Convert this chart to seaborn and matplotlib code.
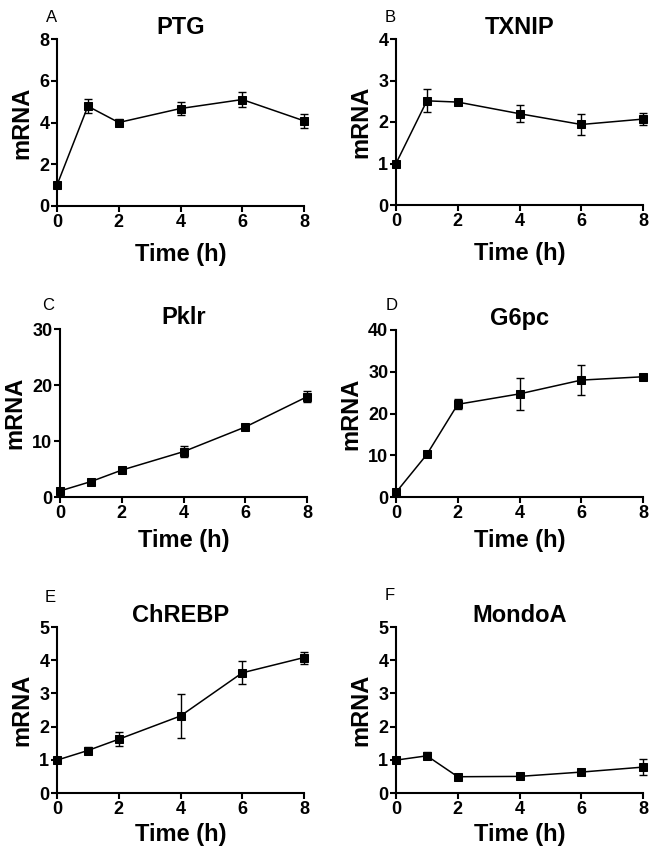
import numpy as np
import pandas as pd
import matplotlib
matplotlib.use("Agg")
import matplotlib.pyplot as plt
import seaborn as sns

# Time points (h)
time = [0, 1, 2, 4, 6, 8]

# Mean mRNA and error per gene
ptg_mean = [1.0, 4.78, 4.0, 4.67, 5.1, 4.08]
ptg_err = [0.1, 0.33, 0.17, 0.29, 0.34, 0.33]

txnip_mean = [1.0, 2.51, 2.48, 2.2, 1.94, 2.07]
txnip_err = [0.03, 0.28, 0.03, 0.21, 0.26, 0.15]

pklr_mean = [1.08, 2.75, 4.8, 8.1, 12.5, 17.9]
pklr_err = [0.2, 0.3, 0.3, 1.0, 0.3, 1.0]

g6pc_mean = [1.1, 10.2, 22.2, 24.7, 28.0, 28.8]
g6pc_err = [0.3, 0.4, 1.2, 3.9, 3.5, 0.3]

chrebp_mean = [0.99, 1.28, 1.62, 2.32, 3.62, 4.08]
chrebp_err = [0.03, 0.11, 0.21, 0.66, 0.35, 0.18]

mondoa_mean = [0.99, 1.12, 0.49, 0.5, 0.63, 0.78]
mondoa_err = [0.05, 0.1, 0.04, 0.04, 0.1, 0.23]

genes = ["PTG", "TXNIP", "Pklr", "G6pc", "ChREBP", "MondoA"]
letters = ["A", "B", "C", "D", "E", "F"]
means = [ptg_mean, txnip_mean, pklr_mean, g6pc_mean, chrebp_mean, mondoa_mean]
errs = [ptg_err, txnip_err, pklr_err, g6pc_err, chrebp_err, mondoa_err]
ymax = [8, 4, 30, 40, 5, 5]
ystep = [2, 1, 10, 10, 1, 1]

sns.set_theme(style="ticks")
plt.rcParams['font.family'] = ['Liberation Sans', 'DejaVu Sans']
plt.rcParams['axes.linewidth'] = 1.5
for key in ['text.color', 'axes.labelcolor', 'xtick.color', 'ytick.color',
            'axes.edgecolor']:
    plt.rcParams[key] = 'black'

W, H = 651, 851
fig = plt.figure(figsize=(W / 100, H / 100), dpi=100)

# axes boxes in pixels: left, top, right, bottom
boxes = [(57, 39, 304, 206), (396, 39, 643, 205),
         (60, 329, 307, 497), (396, 330, 643, 497),
         (57, 627, 304, 793), (396, 627, 643, 793)]
letter_pos = [(52, 18), (390, 18), (48, 305), (392, 306), (50, 597), (390, 596)]
xlabel_pad = [9, 9, 5, 5, 4, 4]

for i, gene in enumerate(genes):
    l, t, r, b = boxes[i]
    ax = fig.add_axes([l / W, 1 - b / H, (r - l) / W, (b - t) / H])
    df = pd.DataFrame({"time": time, "mrna": means[i], "err": errs[i]})
    ax.errorbar(df["time"], df["mrna"], yerr=df["err"], fmt="none",
                ecolor="black", elinewidth=1.0, capsize=3, capthick=1.0,
                zorder=3, clip_on=False)
    sns.lineplot(data=df, x="time", y="mrna", ax=ax, color="black",
                 marker="s", markersize=6, markeredgecolor="black",
                 linewidth=1.1, zorder=4, clip_on=False)
    ax.set_xlim(0, 8)
    ax.set_ylim(0, ymax[i])
    ax.set_xticks([0, 2, 4, 6, 8])
    ax.set_yticks(np.arange(0, ymax[i] + 1, ystep[i]))
    sns.despine(ax=ax)
    ax.tick_params(axis="both", length=4, width=1.5, pad=1.5,
                   labelsize=13, color="black", labelcolor="black")
    for lab in ax.get_xticklabels() + ax.get_yticklabels():
        lab.set_fontweight("bold")
    ax.set_xlabel("Time (h)", fontsize=17, fontweight="bold",
                  labelpad=xlabel_pad[i])
    ax.set_ylabel("mRNA", fontsize=17, fontweight="bold", labelpad=4)
    ax.set_title(gene, fontsize=17, fontweight="bold", pad=3)
    lx, ly = letter_pos[i]
    fig.text(lx / W, 1 - ly / H, letters[i], fontsize=12,
             ha="center", va="center")

fig.savefig("out.png", dpi=100, facecolor="white")
